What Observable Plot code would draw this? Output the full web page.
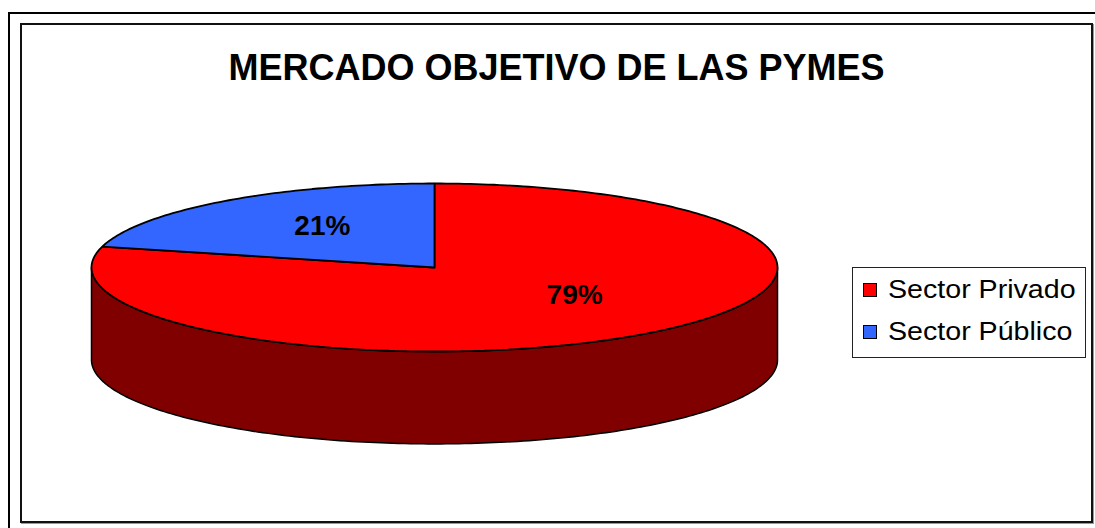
<!DOCTYPE html>
<html><head><meta charset="utf-8">
<script src="https://cdn.jsdelivr.net/npm/d3@7"></script>
<script src="https://cdn.jsdelivr.net/npm/@observablehq/plot@0.6"></script>
<style>
html,body{margin:0;padding:0;background:#fff;overflow:hidden;width:1095px;height:528px;}
body{position:relative;font-family:"Liberation Sans",Arial,sans-serif;}
#outer{position:absolute;left:8px;top:12px;width:1200px;height:600px;border:2px solid #000;box-sizing:border-box;}
#inner{position:absolute;left:20px;top:23px;width:1073px;height:500px;border:2px solid #111;box-sizing:border-box;box-shadow:1px 1px 0 #999;}
#chart{position:absolute;left:0;top:0;}
#title{position:absolute;left:0;width:1113px;top:50px;text-align:center;font-weight:bold;font-size:36px;line-height:36px;color:#000;}
#legend{position:absolute;left:852px;top:267px;width:234px;height:91px;border:1px solid #222;box-sizing:border-box;background:#fff;}
.sw{position:absolute;left:10px;width:14px;height:14px;border:1px solid #000;box-sizing:border-box;}
.lt{position:absolute;left:35px;font-size:26px;line-height:26px;white-space:nowrap;color:#000;transform:scaleX(1.1);transform-origin:0 0;}
</style>
</head><body>
<div id="outer"></div>
<div id="inner"></div>
<div id="chart"></div>
<div id="title"></div>
<div id="legend"></div>
<script>
const titleText = "MERCADO OBJETIVO DE LAS PYMES";
const categories = ["Sector Privado", "Sector Público"];
const values = [79, 21];
const labels = ["79%", "21%"];
const topColors = ["#ff0000", "#3366ff"];
const sideColors = ["#800000", "#1a3380"];

const depth = 1.1;      // pie thickness, in units of the vertical radius
const labelRX = 0.6, labelRY = 0.52;

const total = d3.sum(values);
let acc = 0;
const slices = values.map((v, i) => {
  const a0 = acc / total * 2 * Math.PI;
  acc += v;
  const a1 = acc / total * 2 * Math.PI;
  return {i, a0, a1, mid: (a0 + a1) / 2};
});

function arcPts(a0, a1, dv = 0) {
  const n = Math.max(2, Math.ceil((a1 - a0) / (Math.PI / 180)));
  return d3.range(n + 1).map(k => {
    const a = a0 + (a1 - a0) * k / n;
    return {x: Math.sin(a), y: -Math.cos(a) + dv};
  });
}

const marks = [];
// side walls (front half only)
for (const s of slices) {
  const st = Math.max(s.a0, Math.PI / 2), en = Math.min(s.a1, 3 * Math.PI / 2);
  if (en > st) {
    const pts = [...arcPts(st, en), ...arcPts(st, en, depth).reverse()];
    pts.push(pts[0]);
    marks.push(Plot.line(pts, {x: "x", y: "y", fill: sideColors[s.i], stroke: "#000", strokeWidth: 1.5, curve: "linear"}));
  }
}
// top faces
for (const s of slices) {
  const pts = [{x: 0, y: 0}, ...arcPts(s.a0, s.a1), {x: 0, y: 0}];
  marks.push(Plot.line(pts, {x: "x", y: "y", fill: topColors[s.i], stroke: "#000", strokeWidth: 1.8, strokeLinejoin: "miter"}));
}
// labels
marks.push(Plot.text(slices, {
  x: d => labelRX * Math.sin(d.mid),
  y: d => -labelRY * Math.cos(d.mid),
  text: d => labels[d.i],
  dx: 14, dy: -7,
  fontSize: 28, fontWeight: "bold", fill: "#000"
}));

const chart = Plot.plot({
  width: 1095, height: 528, margin: 0,
  style: {fontFamily: "Liberation Sans, Arial, sans-serif", background: "transparent"},
  x: {domain: [-1, 1], range: [91, 777], axis: null},
  y: {domain: [-1, 1], range: [183, 351], axis: null},
  marks
});
document.getElementById("chart").appendChild(chart);
document.getElementById("title").textContent = titleText;

const leg = document.getElementById("legend");
categories.forEach((c, i) => {
  const sw = document.createElement("div");
  sw.className = "sw"; sw.style.top = (15 + i * 42) + "px"; sw.style.background = topColors[i];
  const t = document.createElement("div");
  t.className = "lt"; t.style.top = (8 + i * 42) + "px"; t.textContent = c;
  leg.appendChild(sw); leg.appendChild(t);
});
</script>
</body></html>
